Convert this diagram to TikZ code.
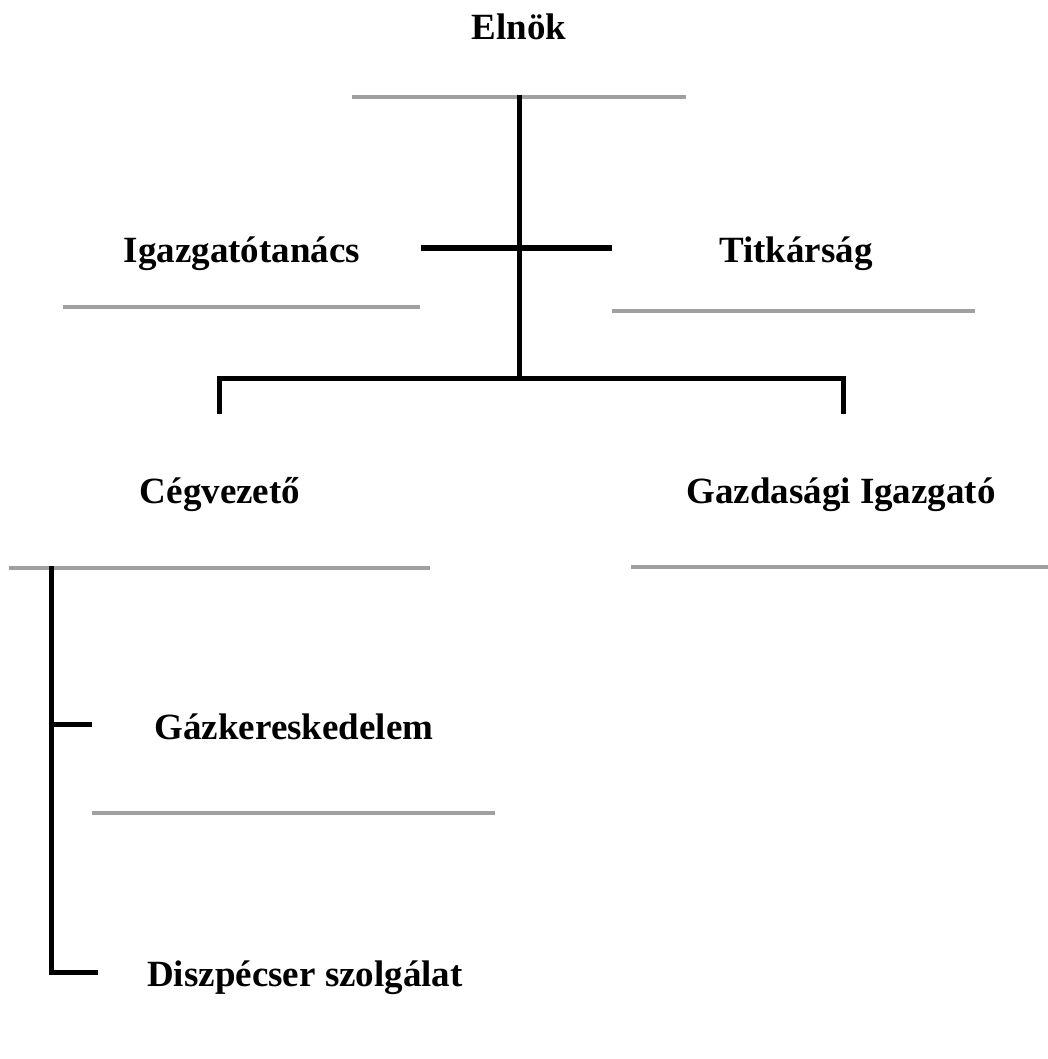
\documentclass[tikz,border=0pt]{standalone}
\usepackage{fontspec}
\setmainfont{Liberation Serif}
\usepackage{tikz}
\usetikzlibrary{positioning}
\definecolor{ruleGray}{HTML}{A0A0A0}

\begin{document}
\begin{tikzpicture}[
  x=1pt, y=-1pt,
  title/.style={font=\bfseries\fontsize{37}{44}\selectfont, anchor=base, inner sep=0pt},
  rule/.style={draw=ruleGray, line width=3.5pt},
  link/.style={draw, line width=5pt}
]
  \useasboundingbox (0,0) rectangle (1048,1059);

  \node[title] (elnok) at (519,40) {Elnök};
  \node[title] (igtan) at (242,262) {Igazgatótanács};
  \node[title] (titk) at (796,262) {Titkárság};
  \node[title] (cegv) at (220,503) {Cégvezető};
  \node[title] (gazd) at (841,503) {Gazdasági Igazgató};
  \node[title] (gazker) at (294,739) {Gázkereskedelem};
  \node[title] (diszp) at (305,986) {Diszpécser szolgálat};

  % rules under the titles
  \draw[rule] (352,97) -- (686,97);
  \draw[rule] (63,307) -- (420,307);
  \draw[rule] (612,311) -- (975,311);
  \draw[rule] (9,568) -- (430,568);
  \draw[rule] (631,567) -- (1048,567);
  \draw[rule] (92,813) -- (495,813);

  \coordinate (elnokTop) at (519,95);
  \coordinate (fork) at (519,378);
  \coordinate (igtanEnd) at (421,248);
  \coordinate (titkEnd) at (612,248);
  \coordinate (cegvEnd) at (219,414);
  \coordinate (gazdEnd) at (843,414);
  \coordinate (cegvTop) at (51,566);
  \coordinate (gazkerEnd) at (92,724);
  \coordinate (diszpEnd) at (98,972);

  \draw[link] (elnokTop) -- (fork);
  \draw[link] (igtanEnd) -- (titkEnd);
  \draw[link] (cegvEnd) |- (fork) -| (gazdEnd);
  \draw[link] (cegvTop) |- (diszpEnd);
  \draw[link] (gazkerEnd) -- (gazkerEnd -| cegvTop);
\end{tikzpicture}
\end{document}
